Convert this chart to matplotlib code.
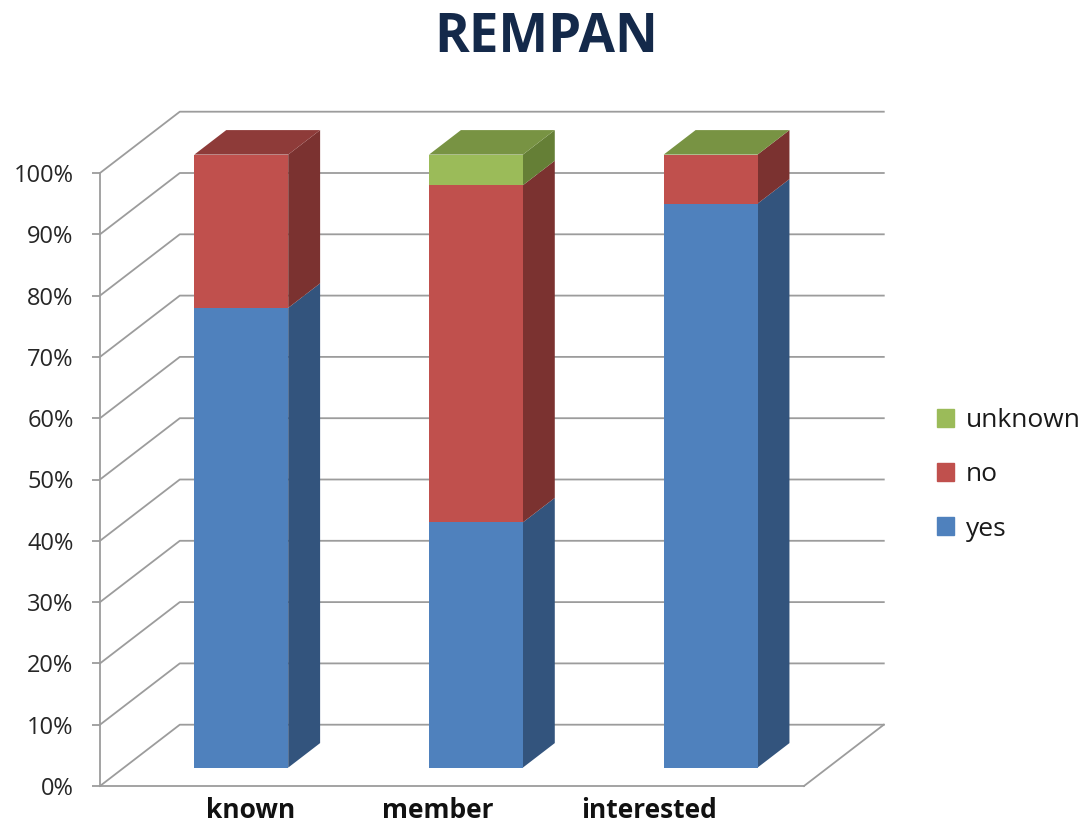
import matplotlib.pyplot as plt
import matplotlib.transforms as mtransforms
from matplotlib.patches import Polygon, Patch
import numpy as np

plt.rcParams['font.family'] = ['Open Sans', 'DejaVu Sans']

# data (percent of answers)
categories = ['known', 'member', 'interested']
yes = [75, 40, 92]
no = [25, 55, 8]
unknown = [np.nan, 5, 0]   # known has no "unknown" entry at all
series = [('yes', yes), ('no', no), ('unknown', unknown)]

y_ticks = list(range(0, 101, 10))
y_tick_labels = [f'{t}%' for t in y_ticks]
label_pos = [0.14, 0.94, 1.84]   # excel puts the category labels a bit off-centre

# colours: front, side, top
colors = {
    'yes': ('#4F81BD', '#33547D', '#3E6697'),
    'no': ('#C0504D', '#7B3230', '#8E3B39'),
    'unknown': ('#9BBB59', '#657F36', '#789343'),
}
grid_col = '#9C9C9C'

# fake 3d: depth offset of the whole floor in data units
DX = 0.34
DY = 10.0
d0, d1 = 0.3, 0.7   # bars sit between these depths
W = 0.4


def proj(x, y, d):
    return (x + d * DX, y + d * DY)


fig = plt.figure(figsize=(10.86, 8.27), dpi=100)
ax = fig.add_axes([100 / 1086, 41 / 827, 704 / 1086, 613 / 827])
ax.set_xlim(-0.5, 2.5)
ax.set_ylim(0, 100)

# walls and floor
for t in y_ticks:
    p0 = proj(-0.5, t, 0)
    p1 = proj(-0.5, t, 1)
    p2 = proj(2.5, t, 1)
    ax.plot([p0[0], p1[0], p2[0]], [p0[1], p1[1], p2[1]], color=grid_col,
            lw=1.3, clip_on=False, zorder=1)
f0 = proj(2.5, 0, 0)
f1 = proj(2.5, 0, 1)
ax.plot([f0[0], f1[0]], [f0[1], f1[1]], color=grid_col, lw=1.3, clip_on=False, zorder=1)

# bars
front_tf = mtransforms.Affine2D().translate(d0 * DX, d0 * DY) + ax.transData
for i, cat in enumerate(categories):
    bottom = 0
    top_name = None
    for name, vals in series:
        v = vals[i]
        if np.isnan(v):
            continue
        front, side, topc = colors[name]
        xr = i + W / 2
        side_pts = [proj(xr, bottom, d0), proj(xr, bottom, d1),
                    proj(xr, bottom + v, d1), proj(xr, bottom + v, d0)]
        ax.add_patch(Polygon(side_pts, closed=True, facecolor=side, lw=0,
                             clip_on=False, zorder=3))
        ax.bar(i, v, width=W, bottom=bottom, color=front, lw=0,
               transform=front_tf, clip_on=False, zorder=4)
        bottom += v
        top_name = name
    xl, xr = i - W / 2, i + W / 2
    top_pts = [proj(xl, bottom, d0), proj(xr, bottom, d0),
               proj(xr, bottom, d1), proj(xl, bottom, d1)]
    ax.add_patch(Polygon(top_pts, closed=True, facecolor=colors[top_name][2],
                         lw=0, clip_on=False, zorder=5))

# axes
for s in ['top', 'right']:
    ax.spines[s].set_visible(False)
for s in ['left', 'bottom']:
    ax.spines[s].set_color(grid_col)
    ax.spines[s].set_linewidth(1.3)
ax.set_facecolor('none')

ax.set_yticks(y_ticks, y_tick_labels)
ax.tick_params(axis='y', length=6, width=1.3, color=grid_col, pad=13,
               labelsize=17, labelcolor='#262626')
ax.set_xticks(label_pos, categories)
ax.tick_params(axis='x', length=0, pad=8, labelsize=19, labelcolor='#111111')
for lbl in ax.get_xticklabels():
    lbl.set_fontweight('bold')

fig.text(546 / 1086, (827 - 52) / 827, 'REMPAN', ha='center', va='baseline',
         fontsize=38, fontweight='bold', color='#14294A')

handles = [Patch(color=colors[n][0], label=n) for n in ['unknown', 'no', 'yes']]
fig.legend(handles=handles, loc='center left',
           bbox_to_anchor=(937 / 1086, (827 - 475) / 827), frameon=False,
           fontsize=19, handlelength=0.65, handleheight=0.65, handletextpad=0.45,
           labelspacing=1.1, borderpad=0, borderaxespad=0, labelcolor='#1A1A1A')

fig.savefig('out.png', dpi=100)
